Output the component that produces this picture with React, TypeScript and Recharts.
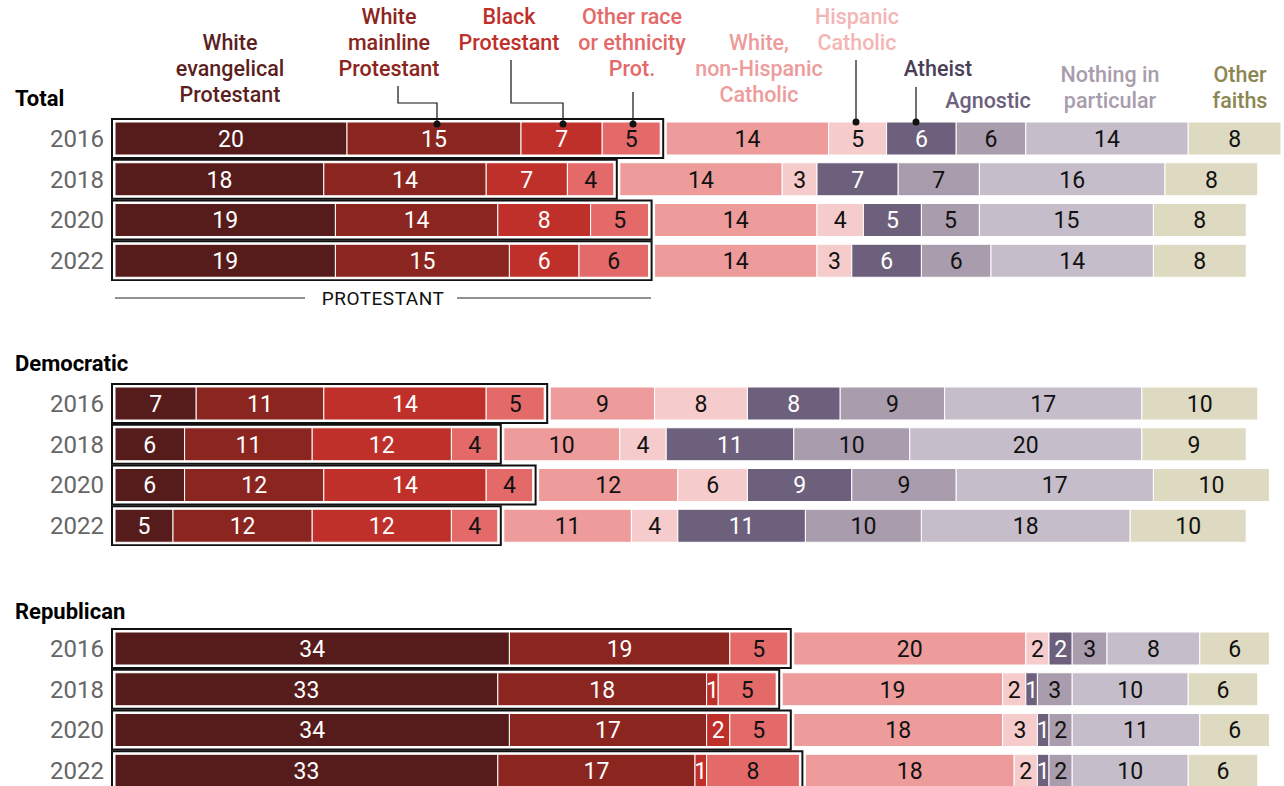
import React from 'react';
import { BarChart, Bar, XAxis, YAxis } from 'recharts';

const years = ['2016', '2018', '2020', '2022'];

const categories = [
  'White evangelical Protestant',
  'White mainline Protestant',
  'Black Protestant',
  'Other race or ethnicity Prot.',
  'White, non-Hispanic Catholic',
  'Hispanic Catholic',
  'Atheist',
  'Agnostic',
  'Nothing in particular',
  'Other faiths',
];

// one array per year, values in category order
const total2016 = [20, 15, 7, 5, 14, 5, 6, 6, 14, 8];
const total2018 = [18, 14, 7, 4, 14, 3, 7, 7, 16, 8];
const total2020 = [19, 14, 8, 5, 14, 4, 5, 5, 15, 8];
const total2022 = [19, 15, 6, 6, 14, 3, 6, 6, 14, 8];

const dem2016 = [7, 11, 14, 5, 9, 8, 8, 9, 17, 10];
const dem2018 = [6, 11, 12, 4, 10, 4, 11, 10, 20, 9];
const dem2020 = [6, 12, 14, 4, 12, 6, 9, 9, 17, 10];
const dem2022 = [5, 12, 12, 4, 11, 4, 11, 10, 18, 10];

const rep2016 = [34, 19, 0, 5, 20, 2, 2, 3, 8, 6];
const rep2018 = [33, 18, 1, 5, 19, 2, 1, 3, 10, 6];
const rep2020 = [34, 17, 2, 5, 18, 3, 1, 2, 11, 6];
const rep2022 = [33, 17, 1, 8, 18, 2, 1, 2, 10, 6];

const COLORS = ['#561c1c', '#8b2520', '#c0302a', '#e46a6a', '#ed9c9b', '#f6cbcb', '#6d607c', '#a99cad', '#c6bdca', '#dddac1'];
const TEXT_ON = ['#fff', '#fff', '#fff', '#111', '#111', '#111', '#fff', '#111', '#111', '#111'];
const HEAD_COLORS = ['#5c1f1f', '#8b2520', '#c0302a', '#e46a6a', '#ed9c9b', '#f4b5b5', '#4a3f57', '#6d607c', '#a99cad', '#8c8650'];

const FONT = 'Roboto, "Liberation Sans", sans-serif';
const GAP = 6; // space between the protestant block and the rest

const buildRows = (rows: number[][]) =>
  years.map((year, i) => {
    const row: any = { year };
    categories.forEach((_, k) => { row['c' + k] = rows[i][k]; });
    return row;
  });

const totalData = buildRows([total2016, total2018, total2020, total2022]);
const demData = buildRows([dem2016, dem2018, dem2020, dem2022]);
const repData = buildRows([rep2016, rep2018, rep2020, rep2022]);

const makeShape = (idx: number) => (props: any) => {
  const { x, y, width, height, payload } = props;
  const val = payload['c' + idx];
  if (!val || !width || width <= 0) return <g />;
  const dx = idx >= 4 ? GAP : 0;
  let border = null;
  if (idx === 0) {
    const unit = width / val;
    const prot = payload.c0 + payload.c1 + payload.c2 + payload.c3;
    border = (
      <rect x={x - 3} y={y - 3} width={unit * prot + 6} height={height + 6} fill="none" stroke="#111" strokeWidth={2} />
    );
  }
  return (
    <g>
      <rect x={x + dx} y={y} width={width} height={height} fill={COLORS[idx]} stroke="#fff" strokeWidth={1} />
      {border}
      <text
        x={x + dx + width / 2}
        y={y + height / 2}
        dy="0.36em"
        textAnchor="middle"
        fontSize={23}
        fontFamily={FONT}
        fill={TEXT_ON[idx]}
      >
        {val}
      </text>
    </g>
  );
};

const Group = ({ data, top }: { data: any[]; top: number }) => (
  <div style={{ position: 'absolute', left: 0, top }}>
    <BarChart
      layout="vertical"
      width={1284}
      height={163}
      data={data}
      margin={{ top: 0, right: 9, bottom: 0, left: 0 }}
      barSize={33}
    >
      <XAxis type="number" domain={[0, 100]} hide />
      <YAxis
        type="category"
        dataKey="year"
        width={115}
        axisLine={false}
        tickLine={false}
        tickMargin={5}
        tick={{ fontSize: 24, fill: '#666', fontFamily: FONT }}
      />
      {categories.map((c, i) => (
        <Bar key={c} dataKey={'c' + i} name={c} stackId="a" isAnimationActive={false} shape={makeShape(i)} />
      ))}
    </BarChart>
  </div>
);

// header labels: [lines, center x, first line baseline]
const heads: [string[], number, number][] = [
  [['White', 'evangelical', 'Protestant'], 230, 50],
  [['White', 'mainline', 'Protestant'], 389, 24],
  [['Black', 'Protestant'], 509, 24],
  [['Other race', 'or ethnicity', 'Prot.'], 632, 24],
  [['White,', 'non-Hispanic', 'Catholic'], 759, 50],
  [['Hispanic', 'Catholic'], 857, 24],
  [['Atheist'], 938, 76],
  [['Agnostic'], 988, 108],
  [['Nothing in', 'particular'], 1110, 82],
  [['Other', 'faiths'], 1240, 82],
];

export default function App() {
  return (
    <div style={{ position: 'absolute', left: 0, top: 0, width: 1284, height: 786, background: '#fff', fontFamily: FONT }}>
      <Group data={totalData} top={118} />
      <Group data={demData} top={383} />
      <Group data={repData} top={628} />
      <svg width={1284} height={786} style={{ position: 'absolute', left: 0, top: 0, pointerEvents: 'none' }}>
        {heads.map(([lines, cx, y0], i) => (
          <text key={i} textAnchor="middle" fontSize={21.5} fontWeight={500} fill={HEAD_COLORS[i]} fontFamily={FONT}>
            {lines.map((l, j) => (
              <tspan key={j} x={cx} y={y0 + j * 26}>{l}</tspan>
            ))}
          </text>
        ))}
        <g stroke="#111" strokeWidth={1.2} fill="none">
          <polyline points="398,86 398,103 437,103 437,124" />
          <polyline points="511,60 511,103 563,103 563,124" />
          <polyline points="633,92 633,124" />
          <polyline points="856,60 856,122" />
          <polyline points="916,87 916,122" />
        </g>
        <g fill="#111">
          <circle cx={437} cy={124} r={3.5} />
          <circle cx={563} cy={124} r={3.5} />
          <circle cx={633} cy={124} r={3.5} />
          <circle cx={856} cy={122} r={3.5} />
          <circle cx={916} cy={122} r={3.5} />
        </g>
        <text x={15} y={106} fontSize={22} fontWeight={700} fill="#000" fontFamily={FONT}>Total</text>
        <text x={15} y={371} fontSize={22} fontWeight={700} fill="#000" fontFamily={FONT}>Democratic</text>
        <text x={15} y={619} fontSize={22} fontWeight={700} fill="#000" fontFamily={FONT}>Republican</text>
        <line x1={115} y1={298} x2={305} y2={298} stroke="#222" strokeWidth={1} />
        <line x1={457} y1={298} x2={651} y2={298} stroke="#222" strokeWidth={1} />
        <text x={383} y={305} textAnchor="middle" fontSize={19} letterSpacing={0.5} fill="#111" fontFamily={FONT}>PROTESTANT</text>
      </svg>
    </div>
  );
}
